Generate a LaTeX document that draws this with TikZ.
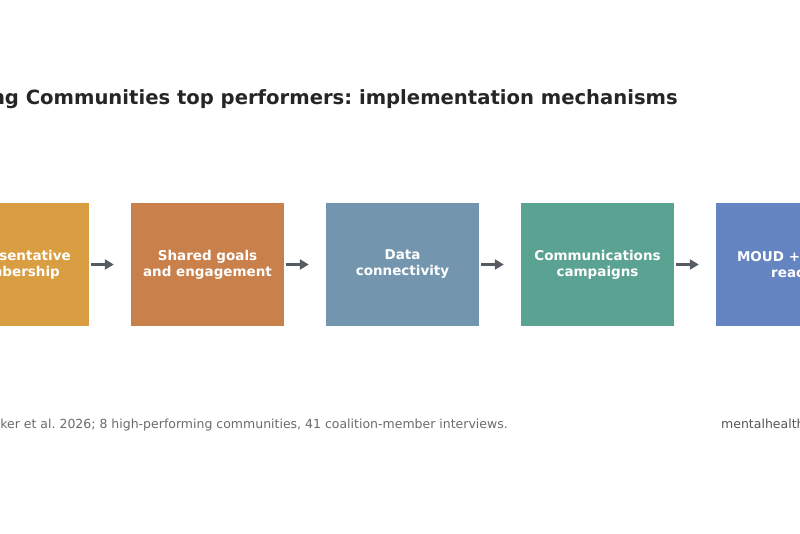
\documentclass[tikz,border=0pt]{standalone}
\usepackage{fontspec}
\setmainfont{DejaVu Sans}
\usetikzlibrary{arrows.meta}
\definecolor{c1}{HTML}{D99E42}
\definecolor{c2}{HTML}{C9804A}
\definecolor{c3}{HTML}{7396AE}
\definecolor{c4}{HTML}{5AA393}
\definecolor{c5}{HTML}{6584C2}
\definecolor{arr}{HTML}{555B63}
\definecolor{ttl}{HTML}{262626}
\definecolor{foot}{HTML}{6B6B6B}
\definecolor{site}{HTML}{555555}
\frenchspacing
\begin{document}
\begin{tikzpicture}[x=1pt,y=-1pt,
  stage/.style={minimum width=153pt,minimum height=123pt,inner sep=0pt,text=white,
    font=\fontsize{13.5}{16}\selectfont\bfseries,align=center},
  flow/.style={-{Triangle[length=9pt,width=10pt]},arr,line width=3pt}]
\useasboundingbox (0,0) rectangle (800,533);
\clip (0,0) rectangle (800,533);
\fill[white] (0,0) rectangle (800,533);
\node[anchor=east,text=ttl,font=\fontsize{19.6}{24}\selectfont\bfseries,inner sep=0pt] (title) at (678,99.5) {HEALing Communities top performers: implementation mechanisms};
\node[stage,fill=c1] (b1) at (12.5,264.5) {Representative\\membership};
\node[stage,fill=c2] (b2) at (207.5,264.5) {Shared goals\\and engagement};
\node[stage,fill=c3] (b3) at (402.5,264.5) {Data\\connectivity};
\node[stage,fill=c4] (b4) at (597.5,264.5) {Communications\\campaigns};
\node[stage,fill=c5] (b5) at (792.5,264.5) {MOUD + OEND\\reach};
\foreach \a/\b in {b1/b2,b2/b3,b3/b4,b4/b5}{
  \draw[flow] ([xshift=2pt]\a.east) -- ([xshift=-17pt]\b.west);
}
\node[anchor=east,text=foot,font=\fontsize{12.5}{14}\selectfont,inner sep=0pt] (src) at (508,425.5) {Source: Walker et al. 2026; 8 high-performing communities, 41 coalition-member interviews.};
\node[anchor=west,text=site,font=\fontsize{12.5}{14}\selectfont,inner sep=0pt] (site) at (721,425.5) {mentalhealthdaily.com};
\end{tikzpicture}
\end{document}
